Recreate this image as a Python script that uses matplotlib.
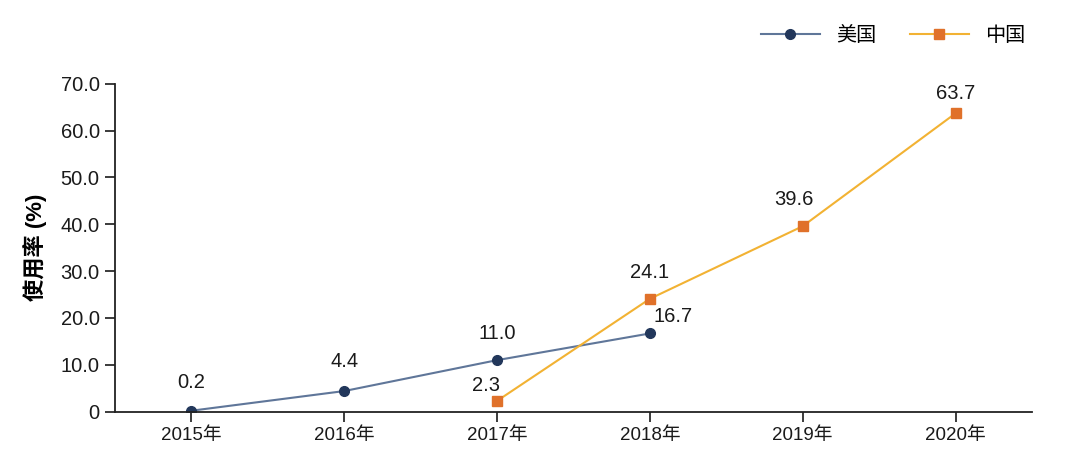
import matplotlib.pyplot as plt

plt.rcParams['font.family'] = ['Liberation Sans', 'Noto Sans CJK SC', 'DejaVu Sans']

years = ["2015年", "2016年", "2017年", "2018年", "2019年", "2020年"]
usa_x = [0, 1, 2, 3]
usa_vals = [0.2, 4.4, 11.0, 16.7]
china_x = [2, 3, 4, 5]
china_vals = [2.3, 24.1, 39.6, 63.7]
y_ticks = [0, 10, 20, 30, 40, 50, 60, 70]
y_tick_labels = ["0", "10.0", "20.0", "30.0", "40.0", "50.0", "60.0", "70.0"]

# label offsets in points (dx, dy)
usa_offsets = [(0, 20), (0, 21), (0, 19), (17, 12)]
china_offsets = [(-8, 11), (0, 19), (-6, 19), (0, 14)]

fig = plt.figure(figsize=(10.8, 4.71), dpi=100)
ax = fig.add_axes([0.1065, 0.126, 0.849, 0.696])

ax.plot(usa_x, usa_vals, color="#5f7699", lw=1.5, marker="o", markersize=7,
        markerfacecolor="#22375b", markeredgecolor="#22375b", label="美国")
ax.plot(china_x, china_vals, color="#f2b233", lw=1.5, marker="s", markersize=7,
        markerfacecolor="#e0712a", markeredgecolor="#e0712a", label="中国")

for x, v, (dx, dy) in zip(usa_x, usa_vals, usa_offsets):
    ax.annotate(f"{v:.1f}", (x, v), xytext=(dx, dy), textcoords="offset points",
                ha="center", va="center", fontsize=14.5, color="#1a1a1a")
for x, v, (dx, dy) in zip(china_x, china_vals, china_offsets):
    ax.annotate(f"{v:.1f}", (x, v), xytext=(dx, dy), textcoords="offset points",
                ha="center", va="center", fontsize=14.5, color="#1a1a1a")

ax.set_xlim(-0.5, 5.5)
ax.set_ylim(0, 70)
ax.set_xticks(range(len(years)))
ax.set_xticklabels(years, fontsize=13.5)
ax.set_yticks(y_ticks)
ax.set_yticklabels(y_tick_labels, fontsize=14.5)
ax.tick_params(direction="out", length=7, width=1.2, colors="#1a1a1a", pad=4)
ax.set_ylabel("使用率 (%)", fontsize=16, fontweight="semibold", labelpad=10)

for s in ["top", "right"]:
    ax.spines[s].set_visible(False)
for s in ["left", "bottom"]:
    ax.spines[s].set_linewidth(1.3)
    ax.spines[s].set_color("#222222")

ax.legend(loc="center", bbox_to_anchor=(0.827, 0.925), bbox_transform=fig.transFigure,
          ncol=2, frameon=False, fontsize=14.5, handlelength=2.9, columnspacing=1.7,
          handletextpad=0.8)

fig.savefig("out.png", dpi=100)
